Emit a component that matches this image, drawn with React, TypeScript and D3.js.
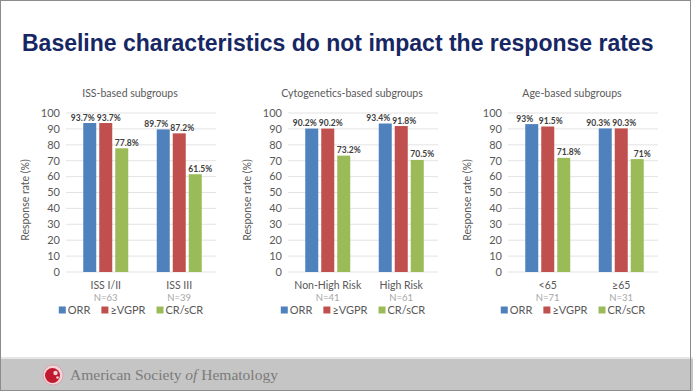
import React, { useEffect, useRef } from "react";
import * as d3 from "d3";

// series + categories
const seriesNames = ["ORR", "≥VGPR", "CR/sCR"];
const seriesColors = ["#4f81bd", "#c0504d", "#9bbb59"];

const issCategories = ["ISS I/II", "ISS III"];
const issN = ["N=63", "N=39"];
const issORR = [93.7, 89.7];
const issVGPR = [93.7, 87.2];
const issCR = [77.8, 61.5];

const cytoCategories = ["Non-High Risk", "High Risk"];
const cytoN = ["N=41", "N=61"];
const cytoORR = [90.2, 93.4];
const cytoVGPR = [90.2, 91.8];
const cytoCR = [73.2, 70.5];

const ageCategories = ["<65", "≥65"];
const ageN = ["N=71", "N=31"];
const ageORR = [93, 90.3];
const ageVGPR = [91.5, 90.3];
const ageCR = [71.8, 71];

const yTicks = [0, 10, 20, 30, 40, 50, 60, 70, 80, 90, 100];

const panels = [
  { title: "ISS-based subgroups", cats: issCategories, ns: issN, values: [issORR, issVGPR, issCR] },
  { title: "Cytogenetics-based subgroups", cats: cytoCategories, ns: cytoN, values: [cytoORR, cytoVGPR, cytoCR] },
  { title: "Age-based subgroups", cats: ageCategories, ns: ageN, values: [ageORR, ageVGPR, ageCR] },
];

const W = 693;
const H = 391;
const FONT = "Lato, 'Open Sans', sans-serif";

const App: React.FC = () => {
  const svgRef = useRef<SVGSVGElement>(null);

  useEffect(() => {
    if (!svgRef.current) return;
    const svg = d3.select(svgRef.current);
    svg.selectAll("*").remove();

    svg.append("rect").attr("width", W).attr("height", H).attr("fill", "#fff");

    svg
      .append("text")
      .attr("x", 22)
      .attr("y", 51)
      .style("font-family", "'Liberation Sans', Arial, sans-serif")
      .style("font-weight", "bold")
      .style("font-size", "23px")
      .style("fill", "#172764")
      .text("Baseline characteristics do not impact the response rates");

    const offsets = [0, 222, 442];
    const labelShift = [-7, 3, 5];

    const y = d3.scaleLinear().domain([0, 100]).range([272, 113]);

    panels.forEach((p, pi) => {
      const off = offsets[pi];
      const g = svg.append("g").attr("transform", `translate(${off},0)`);
      const x0 = d3.scaleBand().domain(p.cats).range([69, 216]).padding(0);
      const x1 = d3
        .scaleBand()
        .domain(seriesNames)
        .range([0, 45])
        .paddingInner(0.1875)
        .paddingOuter(0);

      // gridlines
      g.selectAll(".grid")
        .data(yTicks)
        .enter()
        .append("line")
        .attr("x1", 66)
        .attr("x2", 216)
        .attr("y1", (d) => y(d))
        .attr("y2", (d) => y(d))
        .attr("stroke", "#dcdcdc")
        .attr("stroke-width", 0.8);

      g.selectAll(".tick")
        .data(yTicks)
        .enter()
        .append("text")
        .attr("x", 60)
        .attr("y", (d) => y(d))
        .attr("dy", "0.35em")
        .attr("text-anchor", "end")
        .style("font-family", FONT)
        .style("font-size", "11px")
        .style("fill", "#595959")
        .text((d) => d);

      g.append("text")
        .attr("transform", `translate(25,200) rotate(-90)`)
        .attr("text-anchor", "middle")
        .attr("dy", "0.35em")
        .style("font-family", FONT)
        .style("font-size", "10.5px")
        .style("fill", "#595959")
        .text("Response rate (%)");

      g.append("text")
        .attr("x", 130)
        .attr("y", 97)
        .attr("text-anchor", "middle")
        .style("font-family", FONT)
        .style("font-size", "10.5px")
        .style("fill", "#595959")
        .text(p.title);

      p.cats.forEach((c, ci) => {
        const cx = (x0(c) || 0) + x0.bandwidth() / 2;
        const gx = cx - 22.5;
        p.values.forEach((vals, si) => {
          const v = vals[ci];
          const bx = gx + (x1(seriesNames[si]) || 0);
          g.append("rect")
            .attr("x", bx)
            .attr("y", y(v))
            .attr("width", x1.bandwidth())
            .attr("height", y(0) - y(v))
            .attr("fill", seriesColors[si]);
          g.append("text")
            .attr("x", bx + x1.bandwidth() / 2 + labelShift[si])
            .attr("y", y(v) - 2.5)
            .attr("text-anchor", "middle")
            .style("font-family", FONT)
            .style("font-size", "8.5px")
            .style("font-weight", "bold")
            .style("fill", "#404040")
            .text(`${v}%`);
        });
        g.append("text")
          .attr("x", cx)
          .attr("y", 289)
          .attr("text-anchor", "middle")
          .style("font-family", FONT)
          .style("font-size", "10.5px")
          .style("fill", "#595959")
          .text(c);
        g.append("text")
          .attr("x", cx)
          .attr("y", 301)
          .attr("text-anchor", "middle")
          .style("font-family", FONT)
          .style("font-size", "9.5px")
          .style("fill", "#a6a6a6")
          .text(p.ns[ci]);
      });

      // legend, flowed and centred
      const lg = g.append("g");
      let lx = 0;
      seriesNames.forEach((s, si) => {
        lg.append("rect")
          .attr("x", lx)
          .attr("y", 306.5)
          .attr("width", 7)
          .attr("height", 7)
          .attr("fill", seriesColors[si]);
        const t = lg
          .append("text")
          .attr("x", lx + 9)
          .attr("y", 314)
          .style("font-family", FONT)
          .style("font-size", "11px")
          .style("fill", "#595959")
          .text(s);
        const tw = (t.node() as SVGTextElement).getComputedTextLength();
        lx += 9 + tw + (si < seriesNames.length - 1 ? 11 : 0);
      });
      lg.attr("transform", `translate(${131 - lx / 2},0)`);
    });

    // footer band
    svg.append("rect").attr("x", 0).attr("y", 357).attr("width", W).attr("height", 2).attr("fill", "#e6e6e6");
    svg.append("rect").attr("x", 0).attr("y", 359).attr("width", W).attr("height", H - 359).attr("fill", "#c5c5c5");

    const logo = svg.append("g").attr("transform", "translate(53,375)");
    logo.append("circle").attr("r", 10).attr("fill", "#f2d4d8").attr("stroke", "#d99aa4").attr("stroke-width", 0.8);
    logo.append("circle").attr("r", 7.5).attr("cx", -0.5).attr("cy", 0.5).attr("fill", "#c0182f");
    logo.append("circle").attr("r", 2.2).attr("cx", 2.5).attr("cy", -2).attr("fill", "#f2d4d8");
    logo.append("circle").attr("r", 1.3).attr("cx", 4.5).attr("cy", 2.5).attr("fill", "#f2d4d8");

    const ft = svg
      .append("text")
      .attr("x", 70)
      .attr("y", 380)
      .style("font-family", "'Liberation Serif', 'DejaVu Serif', serif")
      .style("font-size", "15.5px")
      .style("fill", "#7b7b7b");
    ft.append("tspan").text("American Society ");
    ft.append("tspan").style("font-style", "italic").text("of");
    ft.append("tspan").text(" Hematology");

    svg
      .append("rect")
      .attr("x", 0.5)
      .attr("y", 0.5)
      .attr("width", W - 3)
      .attr("height", H - 1)
      .attr("fill", "none")
      .attr("stroke", "#8c8c8c")
      .attr("stroke-width", 1);
  }, []);

  return (
    <svg
      ref={svgRef}
      width={W}
      height={H}
      style={{ position: "fixed", left: 0, top: 0, display: "block" }}
    />
  );
};

export default App;
